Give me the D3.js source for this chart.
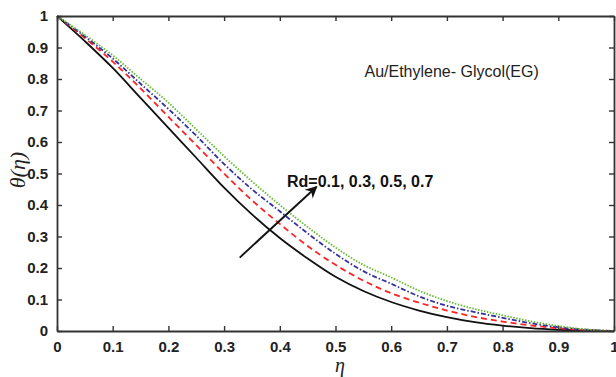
<!DOCTYPE html>
<html>
<head>
<meta charset="utf-8">
<script src="https://cdn.jsdelivr.net/npm/d3@7"></script>
<style>
  body { margin: 0; background: #fff; }
  svg { display: block; }
  .axis path, .axis line { stroke: #333; }
</style>
</head>
<body>
<svg id="chart" width="616" height="377"></svg>
<script>

// eta grid and theta(eta) for each Rd value
const eta = [0, 0.05, 0.1, 0.15, 0.2, 0.25, 0.3, 0.35, 0.4, 0.45, 0.5,
             0.55, 0.6, 0.65, 0.7, 0.75, 0.8, 0.85, 0.9, 0.95, 1];

const thetaRd01 = [1, 0.92, 0.835, 0.74, 0.645, 0.55, 0.455, 0.37, 0.295, 0.23, 0.172,
                   0.127, 0.092, 0.065, 0.044, 0.028, 0.017, 0.009, 0.004, 0.001, 0];
const thetaRd03 = [1, 0.93, 0.855, 0.77, 0.68, 0.59, 0.5, 0.415, 0.34, 0.27, 0.21,
                   0.16, 0.12, 0.09, 0.065, 0.045, 0.03, 0.018, 0.009, 0.003, 0];
const thetaRd05 = [1, 0.935, 0.865, 0.785, 0.705, 0.62, 0.53, 0.45, 0.38, 0.31, 0.245,
                   0.19, 0.15, 0.11, 0.08, 0.06, 0.042, 0.025, 0.012, 0.004, 0];
const thetaRd07 = [1, 0.94, 0.875, 0.8, 0.725, 0.64, 0.555, 0.475, 0.4, 0.33, 0.265,
                   0.21, 0.17, 0.128, 0.095, 0.07, 0.05, 0.031, 0.016, 0.005, 0];

const xTicks = [0, 0.1, 0.2, 0.3, 0.4, 0.5, 0.6, 0.7, 0.8, 0.9, 1];
const yTicks = [0, 0.1, 0.2, 0.3, 0.4, 0.5, 0.6, 0.7, 0.8, 0.9, 1];

const series = [
	{ name: "Rd=0.1", values: thetaRd01, color: "#111111", dash: null,          width: 1.8 },
	{ name: "Rd=0.3", values: thetaRd03, color: "#ff2222", dash: "6,4",         width: 1.8 },
	{ name: "Rd=0.5", values: thetaRd05, color: "#333399", dash: "5,2,1.5,2",   width: 1.8 },
	{ name: "Rd=0.7", values: thetaRd07, color: "#66bb33", dash: "1.5,1.5",     width: 1.8 }
];

// Plot area
const plotLeft = 57, plotRight = 614, plotTop = 16, plotBottom = 331;

const xScale = d3.scaleLinear().domain([0, 1]).range([plotLeft, plotRight]);
const yScale = d3.scaleLinear().domain([0, 1]).range([plotBottom, plotTop]);

const svg = d3.select("#chart");

// Curves
const line = d3.line()
	.x((d, i) => xScale(eta[i]))
	.y(d => yScale(d))
	.curve(d3.curveMonotoneX);

svg.selectAll(".curve")
	.data(series)
	.enter()
	.append("path")
		.attr("class", "curve")
		.attr("d", d => line(d.values))
		.attr("fill", "none")
		.attr("stroke", d => d.color)
		.attr("stroke-width", d => d.width)
		.attr("stroke-dasharray", d => d.dash);

// Axes with inward ticks, plus box frame
const fmt = d => d === 0 || d === 1 ? d3.format("d")(d) : d3.format(".1f")(d);

svg.append("g")
	.attr("class", "axis")
	.attr("transform", "translate(0," + plotBottom + ")")
	.call(d3.axisBottom(xScale).tickValues(xTicks).tickFormat(fmt).tickSizeInner(-5).tickSizeOuter(0).tickPadding(10));

svg.append("g")
	.attr("class", "axis")
	.attr("transform", "translate(" + plotLeft + ",0)")
	.call(d3.axisLeft(yScale).tickValues(yTicks).tickFormat(fmt).tickSizeInner(-5).tickSizeOuter(0).tickPadding(9));

svg.append("g")
	.attr("class", "axis")
	.attr("transform", "translate(0," + plotTop + ")")
	.call(d3.axisTop(xScale).tickValues(xTicks).tickFormat("").tickSizeInner(-5).tickSizeOuter(0));

svg.append("g")
	.attr("class", "axis")
	.attr("transform", "translate(" + plotRight + ",0)")
	.call(d3.axisRight(yScale).tickValues(yTicks).tickFormat("").tickSizeInner(-5).tickSizeOuter(0));

svg.selectAll(".axis")
	.attr("font-family", "'Liberation Sans', Arial, sans-serif")
	.attr("font-size", 15)
	.attr("font-weight", "bold");
svg.selectAll(".axis text").attr("fill", "#222");
svg.selectAll(".axis path.domain").attr("stroke-width", 1.8);
svg.selectAll(".axis .tick line").attr("stroke-width", 1.4);

// Axis titles
svg.append("text")
	.attr("x", 340)
	.attr("y", 372)
	.attr("text-anchor", "middle")
	.style("font-family", "'Liberation Serif', 'Times New Roman', serif")
	.style("font-style", "italic")
	.style("font-size", "20px")
	.style("fill", "#222")
	.text("η");

svg.append("text")
	.attr("transform", "translate(25,170) rotate(-90)")
	.attr("text-anchor", "middle")
	.style("font-family", "'Liberation Serif', 'Times New Roman', serif")
	.style("font-style", "italic")
	.style("font-size", "22px")
	.style("fill", "#222")
	.text("θ(η)");

// Annotations
svg.append("defs")
	.append("marker")
		.attr("id", "arrowhead")
		.attr("viewBox", "0 0 10 10")
		.attr("refX", 9)
		.attr("refY", 5)
		.attr("markerWidth", 14)
		.attr("markerHeight", 12)
		.attr("markerUnits", "userSpaceOnUse")
		.attr("orient", "auto")
	.append("path")
		.attr("d", "M0,0 L10,5 L0,10 L3,5 Z")
		.attr("fill", "#111");

svg.append("line")
	.attr("x1", xScale(0.328))
	.attr("y1", yScale(0.233))
	.attr("x2", xScale(0.466))
	.attr("y2", yScale(0.458))
	.attr("stroke", "#111")
	.attr("stroke-width", 1.9)
	.attr("marker-end", "url(#arrowhead)");

svg.append("text")
	.attr("x", xScale(0.413))
	.attr("y", yScale(0.458))
	.style("font-family", "'Liberation Sans', Arial, sans-serif")
	.style("font-weight", "bold")
	.style("font-size", "16px")
	.style("fill", "#111")
	.text("Rd=0.1, 0.3, 0.5, 0.7");

svg.append("text")
	.attr("x", xScale(0.552))
	.attr("y", yScale(0.805))
	.style("font-family", "'Liberation Sans', Arial, sans-serif")
	.style("font-size", "16px")
	.style("fill", "#222")
	.text("Au/Ethylene- Glycol(EG)");

</script>
</body>
</html>
